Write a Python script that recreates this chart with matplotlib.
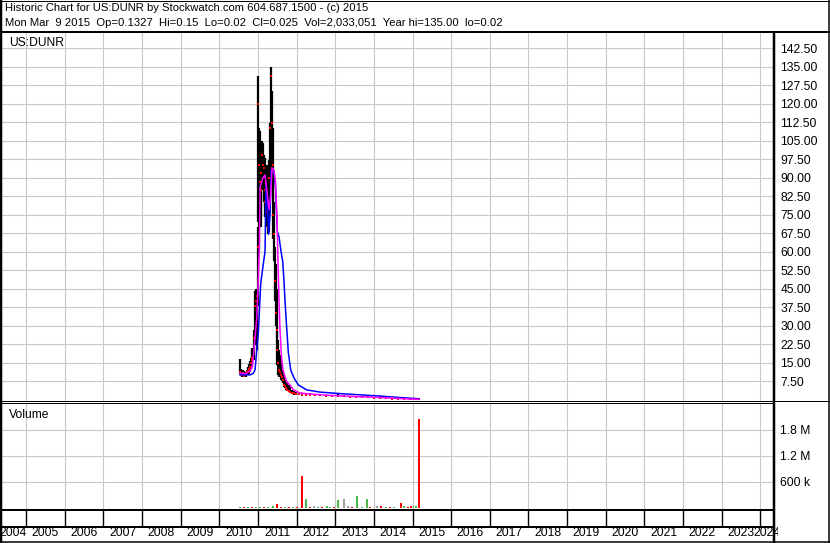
import matplotlib
matplotlib.use("Agg")
import matplotlib.pyplot as plt
from matplotlib.lines import Line2D

plt.rcParams['font.family'] = ['Liberation Sans', 'DejaVu Sans']

W, H = 830, 543

# daily-ish price bars, dates in decimal years
price_dates = [2010.524, 2010.550, 2010.576, 2010.602, 2010.628, 2010.653, 2010.679, 2010.705,
               2010.731, 2010.757, 2010.783, 2010.809, 2010.835, 2010.860, 2010.886, 2010.912,
               2010.938, 2010.964, 2010.990, 2011.010, 2011.029, 2011.049, 2011.070, 2011.091,
               2011.111, 2011.132, 2011.153, 2011.173, 2011.194, 2011.215, 2011.236, 2011.256,
               2011.277, 2011.298, 2011.318, 2011.339, 2011.360, 2011.380, 2011.401, 2011.422,
               2011.443, 2011.463, 2011.484, 2011.505, 2011.525, 2011.546, 2011.572, 2011.598,
               2011.624, 2011.650, 2011.675, 2011.701, 2011.727, 2011.753, 2011.792, 2011.831,
               2011.883, 2011.934, 2011.986, 2012.064, 2012.141, 2012.245, 2012.348, 2012.477,
               2012.607, 2012.762, 2012.917, 2013.072, 2013.228, 2013.383, 2013.538, 2013.693,
               2013.848, 2014.004, 2014.159, 2014.314, 2014.469, 2014.625, 2014.780, 2014.935,
               2015.064, 2015.168]
price_high = [16.4, 12.5, 11.8, 12.0, 11.5, 11.0, 11.2, 12.0, 13.0, 14.5, 15.5, 17.0, 21.0, 20.0,
              28.0, 44.0, 45.0, 44.0, 70.0, 131.0, 110.0, 109.0, 100.0, 96.0, 105.0, 104.0, 99.0,
              98.0, 92.0, 88.0, 95.0, 90.0, 85.0, 97.0, 112.0, 135.0, 125.0, 110.0, 93.0, 80.0,
              62.0, 55.0, 45.0, 28.0, 24.0, 20.0, 18.0, 16.0, 12.0, 11.0, 10.0, 8.0, 7.0, 6.5,
              6.0, 5.0, 4.0, 3.5, 3.2, 3.0, 2.8, 2.6, 2.5, 2.3, 2.2, 2.0, 2.0, 2.2, 1.8, 1.6,
              1.5, 1.4, 1.3, 1.2, 1.5, 1.0, 0.8, 0.6, 0.5, 0.3, 0.2, 0.15]
price_low = [10.2, 9.4, 9.3, 9.6, 9.5, 9.2, 9.2, 9.8, 10.0, 10.5, 11.0, 12.5, 13.0, 14.5,
             16.0, 22.0, 30.0, 20.0, 38.0, 72.0, 60.0, 78.0, 70.0, 74.0, 85.0, 86.0, 80.0,
             78.0, 74.0, 70.0, 72.0, 67.0, 68.0, 75.0, 85.0, 95.0, 92.0, 80.0, 65.0, 56.0,
             40.0, 30.0, 25.0, 14.0, 10.0, 9.0, 9.0, 8.0, 7.5, 6.5, 5.0, 4.5, 4.0, 3.5,
             3.0, 2.5, 2.2, 2.0, 2.0, 2.0, 1.8, 1.7, 1.6, 1.5, 1.4, 1.3, 1.2, 1.2, 1.1, 1.0,
             0.9, 0.8, 0.7, 0.6, 0.5, 0.4, 0.3, 0.2, 0.15, 0.05, 0.02, 0.02]
price_close = [11.0, 10.0, 10.2, 10.8, 10.0, 9.6, 10.4, 11.0, 11.5, 12.5, 13.0, 15.0, 17.0, 16.0,
               25.0, 38.0, 40.0, 42.0, 62.0, 120.0, 95.0, 88.0, 85.0, 92.0, 99.0, 95.0, 94.0,
               85.0, 80.0, 76.0, 82.0, 70.0, 78.0, 90.0, 110.0, 131.0, 112.0, 95.0, 75.0, 67.0,
               48.0, 35.0, 28.0, 20.0, 15.0, 12.0, 11.0, 10.0, 9.0, 8.0, 6.0, 5.5, 4.5, 4.0,
               3.5, 3.0, 2.8, 2.5, 2.4, 2.3, 2.0, 2.0, 1.9, 1.8, 1.7, 1.5, 1.4, 1.5, 1.3, 1.2,
               1.1, 1.0, 0.9, 0.8, 0.7, 0.5, 0.4, 0.3, 0.2, 0.1, 0.05, 0.025]

# moving averages (magenta = short, blue = long)
ma_short_dates = [2010.537, 2010.692, 2010.796, 2010.847, 2010.873, 2010.925, 2010.969, 2011.003,
                  2011.037, 2011.055, 2011.094, 2011.132, 2011.184, 2011.236, 2011.288, 2011.327,
                  2011.365, 2011.417, 2011.456, 2011.495, 2011.520, 2011.546, 2011.572, 2011.616,
                  2011.650, 2011.701, 2011.753, 2011.831, 2011.908, 2012.004, 2012.089, 2012.348,
                  2012.865, 2013.383, 2013.900, 2014.418, 2014.806, 2015.168]
ma_short = [10.7, 10.5, 11.5, 13.0, 16.0, 25.0, 33.0, 45.0, 62.0, 86.0, 88.0, 90.0, 91.0, 84.0,
            77.0, 82.0, 94.0, 93.0, 88.0, 73.0, 56.0, 40.0, 28.0, 16.0, 12.0, 9.1, 7.0, 5.9,
            4.2, 3.2, 2.7, 2.2, 1.7, 1.3, 1.0, 0.6, 0.3, 0.05]
ma_long_dates = [2010.537, 2010.796, 2010.873, 2010.925, 2011.010, 2011.073, 2011.140, 2011.184,
                 2011.210, 2011.249, 2011.280, 2011.314, 2011.339, 2011.417, 2011.456, 2011.502,
                 2011.546, 2011.598, 2011.642, 2011.675, 2011.701, 2011.745, 2011.787, 2011.849,
                 2011.934, 2012.046, 2012.263, 2012.607, 2013.124, 2013.642, 2014.159, 2014.676,
                 2015.168]
ma_long = [10.0, 10.0, 10.5, 12.0, 27.0, 47.0, 55.0, 60.0, 88.0, 78.0, 67.0, 75.0, 93.0, 92.0,
           86.0, 68.0, 66.0, 60.0, 56.0, 48.0, 40.0, 29.0, 19.0, 12.0, 8.7, 5.9, 3.9, 3.0,
           2.4, 1.9, 1.4, 0.8, 0.3]

# volume bars: u = up day (green), d = down day (red), n = unchanged (grey)
vol_dates = [2010.537, 2010.641, 2010.744, 2010.847, 2010.951, 2011.055, 2011.158, 2011.262,
             2011.391, 2011.487, 2011.598, 2011.701, 2011.805, 2011.908, 2012.012, 2012.141,
             2012.245, 2012.348, 2012.460, 2012.555, 2012.658, 2012.780, 2012.865, 2012.969,
             2013.072, 2013.228, 2013.339, 2013.434, 2013.564, 2013.693, 2013.815, 2013.900,
             2014.081, 2014.185, 2014.314, 2014.418, 2014.521, 2014.695, 2014.788, 2014.883,
             2014.961, 2015.026, 2015.090, 2015.160]
vol_shares = [25000, 20000, 25000, 20000, 25000, 30000, 20000, 25000,
              50000, 90000, 25000, 20000, 25000, 20000, 25000, 740000,
              210000, 25000, 40000, 25000, 20000, 40000, 25000, 20000,
              190000, 210000, 50000, 25000, 280000, 25000, 210000, 20000,
              40000, 40000, 25000, 20000, 25000, 120000, 40000, 25000,
              40000, 40000, 40000, 2033051]
vol_dir = ['u', 'd', 'u', 'd', 'u', 'u', 'd', 'u',
           'u', 'd', 'd', 'u', 'd', 'u', 'd', 'd',
           'u', 'd', 'n', 'u', 'd', 'u', 'u', 'd',
           'u', 'n', 'n', 'd', 'u', 'u', 'u', 'd',
           'n', 'd', 'u', 'd', 'u', 'd', 'u', 'd',
           'd', 'u', 'u', 'd']

years = list(range(2004, 2025))
price_ticks = [7.5, 15, 22.5, 30, 37.5, 45, 52.5, 60, 67.5, 75, 82.5, 90, 97.5, 105,
               112.5, 120, 127.5, 135, 142.5]
vol_ticks = [600000, 1200000, 1800000]
vol_tick_labels = ['600 k', '1.2 M', '1.8 M']

title1 = "Historic Chart for US:DUNR by Stockwatch.com 604.687.1500 - (c) 2015"
title2 = ("Mon Mar  9 2015  Op=0.1327  Hi=0.15  Lo=0.02  Cl=0.025  Vol=2,033,051  "
          "Year hi=135.00  lo=0.02")

XMIN, XMAX = 2004.327, 2024.353
PX_PER_YEAR = 38.65
FS = 8.7
TITLE_FS = 8.1
GRID = '#c8c8c8'
vol_colors = {'u': '#4cb84c', 'd': '#ff0000', 'n': '#a0a0a0'}


def fx(x):
    return x / W


def fy(y):
    return 1 - y / H


fig = plt.figure(figsize=(W / 100, H / 100), dpi=100)

ax_p = fig.add_axes([0, fy(400.5), fx(774), (400.5 - 32) / H])
ax_v = fig.add_axes([0, fy(509), fx(774), (509 - 403) / H])
# the year strip is a bit wider so the last label shows past the frame line
ax_d = fig.add_axes([0, fy(541), fx(778), (541 - 509) / H])

for ax in (ax_p, ax_v, ax_d):
    for s in ax.spines.values():
        s.set_visible(False)
    ax.set_facecolor('white')
ax_p.set_xlim(XMIN, XMAX)
ax_v.set_xlim(XMIN, XMAX)
ax_d.set_xlim(XMIN, XMIN + 778 / PX_PER_YEAR)

# price panel
ax_p.set_ylim(-0.4, 149.0)
ax_p.set_xticks(years[1:])
ax_p.set_yticks(price_ticks)
ax_p.set_yticklabels(['%.2f' % t for t in price_ticks])
ax_p.grid(True, color=GRID, lw=0.8)
ax_p.set_axisbelow(True)
ax_p.tick_params(axis='x', length=0, labelbottom=False)
ax_p.tick_params(axis='y', length=0, left=False, labelleft=False, right=False,
                 labelright=True, pad=4.5, labelsize=FS)

ax_p.vlines(price_dates, price_low, price_high, color='black', lw=1.6, zorder=2)
ax_p.plot(price_dates, price_close, ls='none', marker='s', ms=1.8, mew=0,
          color='red', zorder=3)
ax_p.plot(ma_long_dates, ma_long, color='#0000ff', lw=1.1, zorder=4)
ax_p.plot(ma_short_dates, ma_short, color='#ff00ff', lw=1.1, zorder=5)

# volume panel
ax_v.set_ylim(-20000, 2410000)
ax_v.set_xticks(years[1:])
ax_v.set_yticks(vol_ticks)
ax_v.set_yticklabels(vol_tick_labels)
ax_v.grid(True, color=GRID, lw=0.8)
ax_v.set_axisbelow(True)
ax_v.tick_params(axis='x', length=0, labelbottom=False)
ax_v.tick_params(axis='y', length=0, left=False, labelleft=False, right=False,
                 labelright=True, pad=4.5, labelsize=FS)
ax_v.bar(vol_dates, vol_shares, width=0.045, color=[vol_colors[d] for d in vol_dir],
         zorder=2)

# date strip with year cells
ax_d.set_ylim(0, 1)
ax_d.set_xticks([])
ax_d.set_yticks([])
ax_d.vlines(years[1:], 0.47, 1, color='black', lw=1.0)
for y in years:
    a = max(y, XMIN)
    b = min(y + 1, XMAX)
    ax_d.text((a + b) / 2, 0.24, str(y), ha='center', va='center', fontsize=FS,
              clip_on=True)


# frame lines, in pixel positions
def hline(y, x0, x1, lw):
    fig.add_artist(Line2D([fx(x0), fx(x1)], [fy(y), fy(y)], color='black', lw=lw * 0.72,
                          solid_capstyle='butt'))


def vline(x, y0, y1, lw):
    fig.add_artist(Line2D([fx(x), fx(x)], [fy(y0), fy(y1)], color='black', lw=lw * 0.72,
                          solid_capstyle='butt'))


hline(0.5, 0, W, 1)
hline(32, 0, W, 2)
hline(400.7, 0, W, 1)
hline(403.2, 0, 774, 1)
hline(509.8, 0, 774, 2)
hline(526.5, 0, 774, 2)
hline(541.8, 0, W, 1.5)
vline(1.2, 0, H, 2.5)
vline(774, 32, H, 2.5)
vline(829.3, 0, H, 1.5)

fig.text(fx(5), fy(11), title1, fontsize=TITLE_FS, va='baseline')
fig.text(fx(5), fy(25.5), title2, fontsize=TITLE_FS, va='baseline')
fig.text(fx(9), fy(46), 'US:DUNR', fontsize=FS, va='baseline')
fig.text(fx(9), fy(418), 'Volume', fontsize=FS, va='baseline')

fig.savefig('out.png', dpi=100, facecolor='white')
